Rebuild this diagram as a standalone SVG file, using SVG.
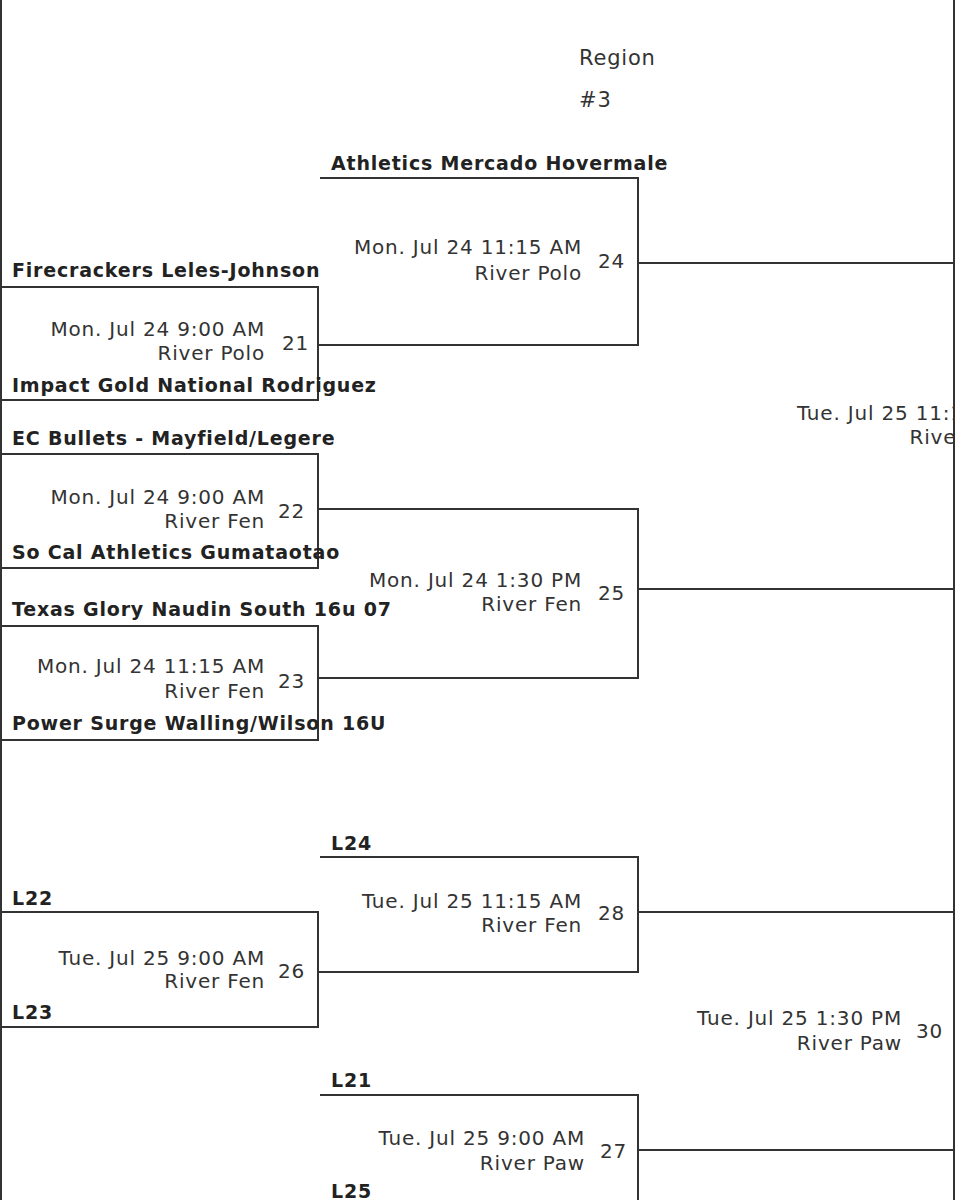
<svg xmlns="http://www.w3.org/2000/svg" width="955" height="1200" viewBox="0 0 955 1200">
<style>
text{font-family:"DejaVu Sans","Liberation Sans",sans-serif;fill:#333;letter-spacing:0.8px}
.t{font-size:19px;font-weight:bold;fill:#222}
.i{font-size:20px;text-anchor:end}
.n{font-size:20px}
.h{font-size:21px}
.l{fill:none;stroke:#333;stroke-width:2}
</style>
<rect x="0" y="0" width="955" height="1200" fill="#fff"/>
<g id="connectors" class="l">
<path d="M1,0V1200M954,0V1200"/>
<path d="M320,178H638V345H320M638,263H955"/>
<path d="M0,287H318V400H0M318,345H638"/>
<path d="M0,454H318V568H0M318,509H638V678H318M638,589H955"/>
<path d="M0,626H318V740H0"/>
<path d="M320,857H638V972H318M638,912H955"/>
<path d="M0,912H318V1027H0"/>
<path d="M320,1095H638V1200M638,1150H955"/>
</g>
<g id="title"><text class="h" x="579" y="65">Region</text><text class="h" x="579" y="107">#3</text></g>
<g id="m24"><text class="t" x="331" y="170">Athletics Mercado Hovermale</text><text class="i" x="582" y="254">Mon. Jul 24 11:15 AM</text><text class="i" x="582" y="280">River Polo</text><text class="n" x="598" y="268">24</text></g>
<g id="m21"><text class="t" x="12" y="277">Firecrackers Leles-Johnson</text><text class="t" x="12" y="392">Impact Gold National Rodriguez</text><text class="i" x="265" y="336">Mon. Jul 24 9:00 AM</text><text class="i" x="265" y="360">River Polo</text><text class="n" x="282" y="350">21</text></g>
<g id="m22"><text class="t" x="12" y="445">EC Bullets - Mayfield/Legere</text><text class="t" x="12" y="559">So Cal Athletics Gumataotao</text><text class="i" x="265" y="504">Mon. Jul 24 9:00 AM</text><text class="i" x="265" y="528">River Fen</text><text class="n" x="278" y="518">22</text></g>
<g id="m25"><text class="i" x="582" y="587">Mon. Jul 24 1:30 PM</text><text class="i" x="582" y="611">River Fen</text><text class="n" x="598" y="600">25</text></g>
<g id="m23"><text class="t" x="12" y="616">Texas Glory Naudin South 16u 07</text><text class="t" x="12" y="730">Power Surge Walling/Wilson 16U</text><text class="i" x="265" y="673">Mon. Jul 24 11:15 AM</text><text class="i" x="265" y="698">River Fen</text><text class="n" x="278" y="688">23</text></g>
<g id="m29"><text class="i" x="1017" y="420">Tue. Jul 25 11:15 AM</text><text class="i" x="1017" y="444">River Polo</text></g>
<g id="m28"><text class="t" x="331" y="850">L24</text><text class="i" x="582" y="908">Tue. Jul 25 11:15 AM</text><text class="i" x="582" y="932">River Fen</text><text class="n" x="598" y="920">28</text></g>
<g id="m26"><text class="t" x="12" y="905">L22</text><text class="t" x="12" y="1019">L23</text><text class="i" x="265" y="965">Tue. Jul 25 9:00 AM</text><text class="i" x="265" y="988">River Fen</text><text class="n" x="278" y="978">26</text></g>
<g id="m30"><text class="i" x="902" y="1025">Tue. Jul 25 1:30 PM</text><text class="i" x="902" y="1050">River Paw</text><text class="n" x="916" y="1038">30</text></g>
<g id="m27"><text class="t" x="331" y="1087">L21</text><text class="i" x="585" y="1145">Tue. Jul 25 9:00 AM</text><text class="i" x="585" y="1170">River Paw</text><text class="n" x="600" y="1158">27</text><text class="t" x="331" y="1198">L25</text></g>
</svg>
